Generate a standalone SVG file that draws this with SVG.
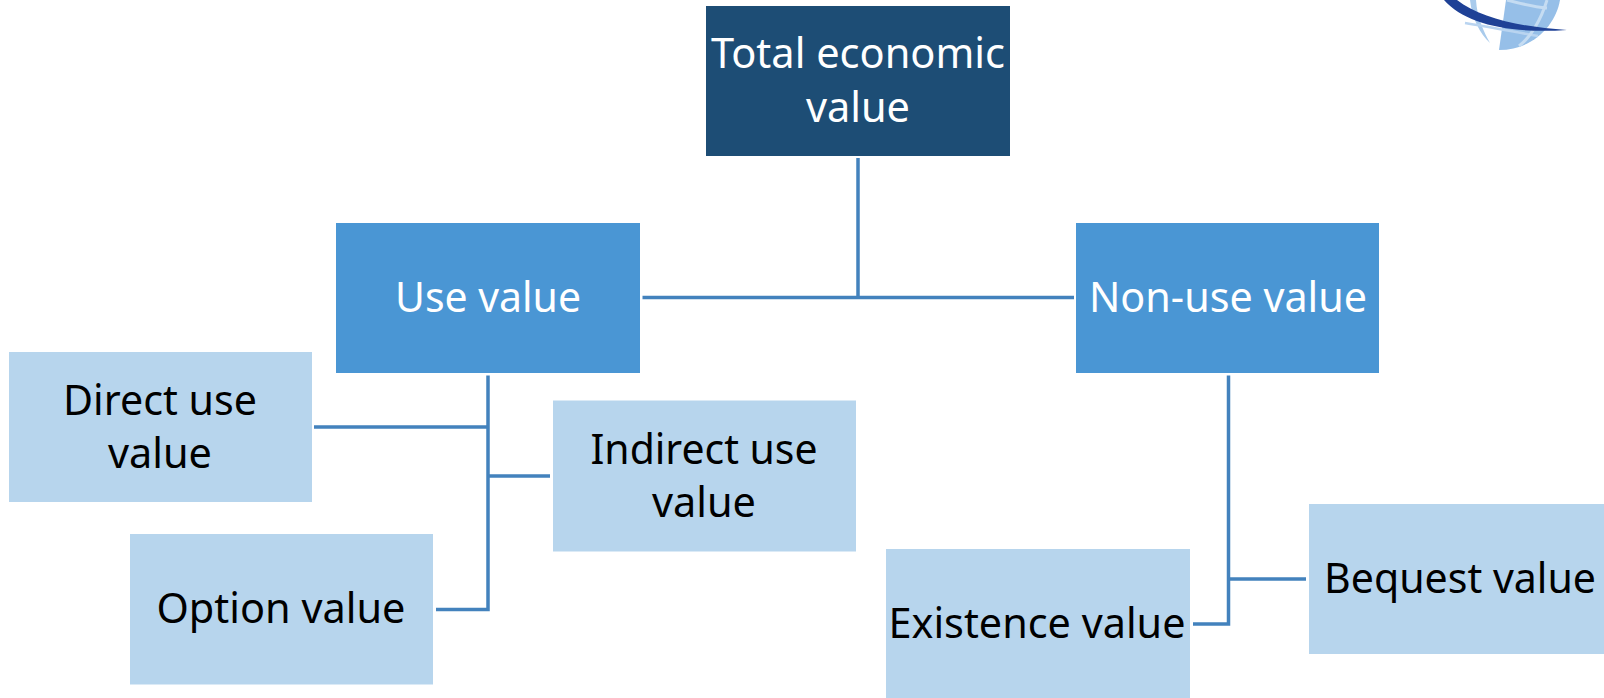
<svg xmlns="http://www.w3.org/2000/svg" width="1604" height="698" viewBox="0 0 1604 698">
<style>
.dark{fill:#1d4d75}.mid{fill:#4a96d4}.light{fill:#b7d5ed}
text{font-family:"Noto Sans","Liberation Sans",sans-serif;font-size:41px;text-anchor:middle}
.w{fill:#fff}.k{fill:#000}
#connectors path{fill:none;stroke:#4382bd;stroke-width:3.500}
</style>
<rect width="1604" height="698" fill="#fff"/>
<g id="logo">
<path d="M1506 0H1560C1556 24 1534 50 1499 50Z" fill="#96bfe8"/>
<path d="M1470 0H1476C1477 18 1484 32 1490 43C1480 34 1472 18 1470 0Z" fill="#a9cbec"/>
<path d="M1465 23C1490 27 1515 32 1538 36" fill="none" stroke="#b9d4f0" stroke-width="2.500"/>
<path d="M1507 0C1522 4 1536 7 1547 8M1547 0C1541 20 1530 38 1519 46" fill="none" stroke="#c5dcf2" stroke-width="3"/>
<path d="M1444 0H1457C1480 18 1520 27 1567 30C1510 34 1465 24 1444 0Z" fill="#1f4196"/>
</g>
<g id="connectors">
<path d="M858 158V297.500M642.500 297.500H1074"/>
<path d="M488 375.500V609.500H436M314 427H488M488 476H550"/>
<path d="M1228.500 375.500V624H1193M1228.500 579H1306"/>
</g>
<g id="total"><rect class="dark" x="706" y="6" width="304" height="150"/><text class="w" x="858" y="68" textLength="294" lengthAdjust="spacingAndGlyphs">Total economic</text><text class="w" x="858" y="122" textLength="104" lengthAdjust="spacingAndGlyphs">value</text></g>
<g id="use"><rect class="mid" x="336" y="223" width="304" height="150"/><text class="w" x="488" y="312" textLength="186" lengthAdjust="spacingAndGlyphs">Use value</text></g>
<g id="nonuse"><rect class="mid" x="1076" y="223" width="303" height="150"/><text class="w" x="1228" y="312" textLength="278" lengthAdjust="spacingAndGlyphs">Non-use value</text></g>
<g id="direct"><rect class="light" x="9" y="352" width="303" height="150"/><text class="k" x="160" y="415" textLength="194" lengthAdjust="spacingAndGlyphs">Direct use</text><text class="k" x="160" y="468" textLength="104" lengthAdjust="spacingAndGlyphs">value</text></g>
<g id="indirect"><rect class="light" x="553" y="400.500" width="303" height="151"/><text class="k" x="704" y="464" textLength="227" lengthAdjust="spacingAndGlyphs">Indirect use</text><text class="k" x="704" y="517" textLength="104" lengthAdjust="spacingAndGlyphs">value</text></g>
<g id="option"><rect class="light" x="130" y="534" width="303" height="150.500"/><text class="k" x="281" y="623" textLength="249" lengthAdjust="spacingAndGlyphs">Option value</text></g>
<g id="existence"><rect class="light" x="886" y="549" width="304" height="149"/><text class="k" x="1037" y="638" textLength="297" lengthAdjust="spacingAndGlyphs">Existence value</text></g>
<g id="bequest"><rect class="light" x="1309" y="504" width="295" height="150"/><text class="k" x="1460" y="593" textLength="272" lengthAdjust="spacingAndGlyphs">Bequest value</text></g>
</svg>
